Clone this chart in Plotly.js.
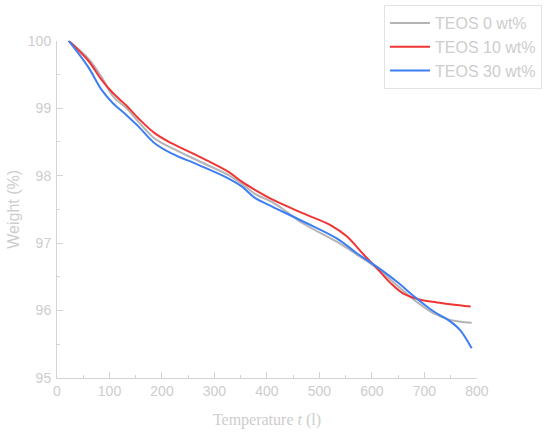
<!DOCTYPE html>
<html>
<head>
<meta charset="utf-8">
<script src="https://cdn.plot.ly/plotly-3.0.1.min.js"></script>
<style>html,body{margin:0;padding:0;background:#fff;}#chart{width:550px;height:435px;}</style>
</head>
<body>
<div id="chart"></div>
<script>
const temp0 = [22, 59, 85, 107, 132, 155, 186, 218, 269, 326, 352, 377, 412, 469, 533, 571, 609, 647, 685, 717, 749, 790];
const weight0 = [100, 99.74, 99.46, 99.17, 99.00, 98.80, 98.55, 98.41, 98.22, 98.01, 97.88, 97.73, 97.60, 97.29, 97.02, 96.83, 96.63, 96.38, 96.13, 95.96, 95.86, 95.82];

const temp10 = [22, 59, 85, 107, 132, 155, 186, 218, 269, 326, 352, 377, 412, 469, 520, 552, 584, 609, 635, 660, 692, 724, 788];
const weight10 = [100, 99.71, 99.42, 99.22, 99.04, 98.85, 98.63, 98.48, 98.29, 98.06, 97.91, 97.79, 97.64, 97.44, 97.27, 97.10, 96.83, 96.63, 96.41, 96.25, 96.16, 96.12, 96.06];

const temp30 = [22, 59, 85, 107, 132, 155, 186, 218, 269, 326, 352, 377, 402, 469, 533, 571, 609, 647, 685, 717, 749, 768, 790];
const weight30 = [100, 99.615, 99.27, 99.07, 98.90, 98.73, 98.48, 98.33, 98.16, 97.96, 97.84, 97.67, 97.57, 97.32, 97.07, 96.85, 96.65, 96.43, 96.18, 95.99, 95.84, 95.71, 95.44];

const seriesNames = ["TEOS 0 wt%", "TEOS 10 wt%", "TEOS 30 wt%"];
const xTitle = "Temperature <i>t</i> (l)";
const yTitle = "Weight (%)";

const colors = ["#b4b4b4", "#f03535", "#3d7ef5"];
const txt = "#cdcdcd";
const axc = "#d4d4d4";

const mk = (x, y, i) => ({
  x: x, y: y, name: seriesNames[i], type: "scatter", mode: "lines",
  line: {color: colors[i], width: 2, shape: "spline", smoothing: 1},
  cliponaxis: false
});

const data = [mk(temp0, weight0, 0), mk(temp10, weight10, 1), mk(temp30, weight30, 2)];

const axisCommon = {
  showgrid: false, zeroline: false, showline: true, linecolor: axc, linewidth: 1,
  ticks: "inside", ticklen: 6, tickcolor: axc, tickwidth: 1, automargin: false,
  tickfont: {family: "Liberation Sans, Arial", size: 14, color: txt},
  minor: {ticks: "inside", ticklen: 3, tickcolor: axc, tickwidth: 1}
};

// plot area: 57..547 px wide, 5..378 px tall; axes occupy a sub-domain
const layout = {
  width: 550, height: 435,
  margin: {l: 57, r: 3, t: 5, b: 57},
  paper_bgcolor: "#fff", plot_bgcolor: "#fff",
  showlegend: true,
  legend: {
    x: 0.9898, xanchor: "right", y: 1, yanchor: "top",
    bordercolor: "#e2e2e2", borderwidth: 1, bgcolor: "rgba(255,255,255,0)",
    font: {family: "Liberation Sans, Arial", size: 16, color: txt},
    tracegroupgap: 0, itemwidth: 40
  },
  xaxis: Object.assign({}, axisCommon, {
    domain: [0, 0.857],
    range: [0, 800], dtick: 100, tick0: 0,
    minor: Object.assign({}, axisCommon.minor, {dtick: 50}),
    title: {text: xTitle, font: {family: "Liberation Serif, Times New Roman", size: 16, color: txt}, standoff: 16}
  }),
  yaxis: Object.assign({}, axisCommon, {
    domain: [0, 0.9043],
    range: [95, 100], dtick: 1, tick0: 95,
    minor: Object.assign({}, axisCommon.minor, {dtick: 0.5}),
    ticklabelstandoff: 2,
    title: {text: yTitle, font: {family: "Liberation Sans, Arial", size: 16, color: txt}, standoff: 4}
  })
};

Plotly.newPlot("chart", data, layout, {displayModeBar: false, staticPlot: true});
</script>
</body>
</html>
